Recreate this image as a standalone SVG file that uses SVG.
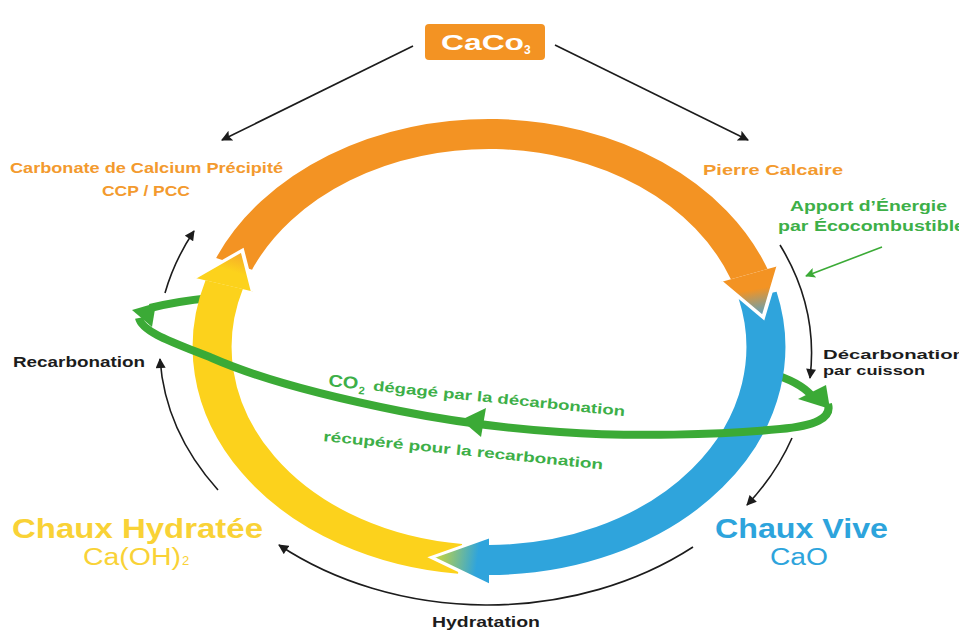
<svg xmlns="http://www.w3.org/2000/svg" width="959" height="633" viewBox="0 0 959 633">
<style>
.t{font-family:"Liberation Sans",Arial,sans-serif;font-weight:bold;}
.n{font-family:"Liberation Sans",Arial,sans-serif;font-weight:normal;}
.blk{fill:#1c1c1c;}
.org{fill:#F39A2E;}
.grn{fill:#3DAF48;}
.conn{fill:none;stroke:#1c1c1c;stroke-width:1.6;}
.gl{fill:none;stroke:#3BAA36;stroke-width:8;}
.hw{fill:none;stroke:#fff;stroke-width:3;stroke-linejoin:miter;}
</style>
<defs>
<marker id="ah" viewBox="0 0 10 10" refX="9" refY="5" markerWidth="11" markerHeight="10" markerUnits="userSpaceOnUse" orient="auto"><path d="M0,0 L10,5 L0,10 z" fill="#1c1c1c"/></marker>
<marker id="ahL" viewBox="0 0 10 10" refX="9" refY="5" markerWidth="14" markerHeight="11" markerUnits="userSpaceOnUse" orient="auto"><path d="M0,0 L10,5 L0,10 L2,5 z" fill="#1c1c1c"/></marker>
<marker id="ahG" viewBox="0 0 10 10" refX="9" refY="5" markerWidth="13" markerHeight="10" markerUnits="userSpaceOnUse" orient="auto"><path d="M0,0 L10,5 L0,10 L2,5 z" fill="#3BAA36"/></marker>
<linearGradient id="gO" gradientUnits="userSpaceOnUse" x1="200.6" y1="-73" x2="210.9" y2="-29.6"><stop offset="0" stop-color="#F39323"/><stop offset="0.35" stop-color="#F39323"/><stop offset="1" stop-color="#4BA3CF"/></linearGradient>
<linearGradient id="gB" gradientUnits="userSpaceOnUse" x1="0" y1="213" x2="-44.3" y2="208.3"><stop offset="0" stop-color="#2FA4DC"/><stop offset="0.2" stop-color="#2FA4DC"/><stop offset="1" stop-color="#D6DB2C"/></linearGradient>
<linearGradient id="gY" gradientUnits="userSpaceOnUse" x1="-204" y1="-62" x2="-190" y2="-97"><stop offset="0" stop-color="#FCD21C"/><stop offset="0.4" stop-color="#FCD21C"/><stop offset="1" stop-color="#F5A32C"/></linearGradient>
</defs>
<rect width="959" height="633" fill="#fff"/>

<!-- green ellipse, back parts (behind ring) -->
<g id="co2-back">
<path class="gl" d="M210,298 C190,300 166,304 150,308"/>
<path class="gl" d="M770,373 C790,379 803,386 811,395"/>
</g>

<!-- main cycle ring -->
<g id="ring" transform="translate(489,347) scale(1.3,1)">
<path d="M-196.07,-83.22 A213,213 0 0 1 200.16,-72.85" fill="none" stroke="#F39323" stroke-width="30"/>
<path d="M206.67,-51.53 A213,213 0 0 1 0,213" fill="none" stroke="#2FA4DC" stroke-width="30"/>
<path d="M-22.26,211.83 A213,213 0 0 1 -203.69,-62.27" fill="none" stroke="#FCD21C" stroke-width="30"/>
<polygon points="222.71,-81.06 210.93,-29.64 178.54,-64.98" fill="url(#gO)"/>
<polyline class="hw" points="222.71,-81.06 210.93,-29.64 178.54,-64.98"/>
<polygon points="0,238 -44.29,210.34 0,190" fill="url(#gB)"/>
<polyline class="hw" points="0,238 -44.29,210.34 0,190"/>
<polygon points="-226.64,-69.29 -189.78,-96.7 -181.7,-55.55" fill="url(#gY)"/>
<polyline class="hw" points="-226.64,-69.29 -189.78,-96.7 -181.7,-55.55"/>
</g>

<!-- green ellipse, front part -->
<g id="co2-front">
<path class="gl" d="M828,404 C832,418 815,426 780,429 C720,435 630,437 560,432 C500,428 450,421 400,411 C330,397 262,380 212,358 C172,342 142,332 139,318"/>
<polygon points="132,310 156,303 152,327" fill="#3BAA36"/>
<polygon points="826,385 798,399 830,409" fill="#3BAA36"/>
<polygon points="461,420 486,408 481,437" fill="#3BAA36"/>
</g>

<!-- connectors -->
<g id="connectors">
<path class="conn" d="M413,46 L222,140" marker-end="url(#ahL)"/>
<path class="conn" d="M555,45 L748,140" marker-end="url(#ahL)"/>
<path class="conn" d="M780,245 A322,252 0 0 1 810,378" marker-end="url(#ah)"/>
<path class="conn" d="M792,438 A322,252 0 0 1 747,505" marker-end="url(#ah)"/>
<path class="conn" d="M693,547 A322,252 0 0 1 279,545" marker-end="url(#ah)"/>
<path class="conn" d="M218,490 A322,252 0 0 1 160,359" marker-end="url(#ah)"/>
<path class="conn" d="M165,293 A322,252 0 0 1 194,231" marker-end="url(#ah)"/>
<path d="M882,247 L806,276" fill="none" stroke="#3BAA36" stroke-width="1.6" marker-end="url(#ahG)"/>
</g>

<!-- nodes -->
<g id="caco3">
<rect x="425" y="24" width="120" height="36" rx="4" fill="#F39323"/>
<text class="t" x="441" y="50" font-size="22" fill="#fff" textLength="83" lengthAdjust="spacingAndGlyphs">CaCo</text>
<text class="t" x="524" y="54" font-size="12" fill="#fff">3</text>
</g>
<g id="ccp">
<text class="t org" x="10" y="173" font-size="14" textLength="273" lengthAdjust="spacingAndGlyphs">Carbonate de Calcium Précipité</text>
<text class="t org" x="102" y="196" font-size="14" textLength="88" lengthAdjust="spacingAndGlyphs">CCP / PCC</text>
</g>
<g id="pierre">
<text class="t org" x="703" y="175" font-size="15" textLength="140" lengthAdjust="spacingAndGlyphs">Pierre Calcaire</text>
</g>
<g id="energie">
<text class="t grn" x="790" y="211" font-size="14" textLength="157" lengthAdjust="spacingAndGlyphs">Apport d’Énergie</text>
<text class="t grn" x="778" y="231" font-size="14" textLength="187" lengthAdjust="spacingAndGlyphs">par Écocombustible</text>
</g>
<g id="decarbonation">
<text class="t blk" x="823" y="359" font-size="13" textLength="142" lengthAdjust="spacingAndGlyphs">Décarbonation</text>
<text class="t blk" x="823" y="375" font-size="13" textLength="102" lengthAdjust="spacingAndGlyphs">par cuisson</text>
</g>
<g id="chaux-vive">
<text class="t" x="715" y="538" font-size="27" fill="#2DA4DC" textLength="173" lengthAdjust="spacingAndGlyphs">Chaux Vive</text>
<text class="n" x="770" y="565" font-size="23" fill="#2DA4DC" textLength="58" lengthAdjust="spacingAndGlyphs">CaO</text>
</g>
<g id="hydratation">
<text class="t blk" x="432" y="627" font-size="15" textLength="108" lengthAdjust="spacingAndGlyphs">Hydratation</text>
</g>
<g id="chaux-hydratee">
<text class="t" x="12" y="538" font-size="27" fill="#F9D236" textLength="251" lengthAdjust="spacingAndGlyphs">Chaux Hydratée</text>
<text class="n" x="83" y="565" font-size="23" fill="#F9D236" textLength="98" lengthAdjust="spacingAndGlyphs">Ca(OH)</text>
<text class="n" x="182" y="565" font-size="13" fill="#F9D236">2</text>
</g>
<g id="recarbonation">
<text class="t blk" x="13" y="367" font-size="15" textLength="132" lengthAdjust="spacingAndGlyphs">Recarbonation</text>
</g>
<g id="co2-label" transform="translate(328,386) rotate(5.8)">
<text class="t grn" x="0" y="0" font-size="17" textLength="30" lengthAdjust="spacingAndGlyphs">CO</text>
<text class="t grn" x="31" y="5" font-size="11">2</text>
<text class="t grn" x="45" y="0" font-size="14" textLength="253" lengthAdjust="spacingAndGlyphs">dégagé par la décarbonation</text>
</g>
<g id="recup-label" transform="translate(323,441) rotate(5.8)">
<text class="t grn" x="0" y="0" font-size="14" textLength="281" lengthAdjust="spacingAndGlyphs">récupéré pour la recarbonation</text>
</g>
</svg>
